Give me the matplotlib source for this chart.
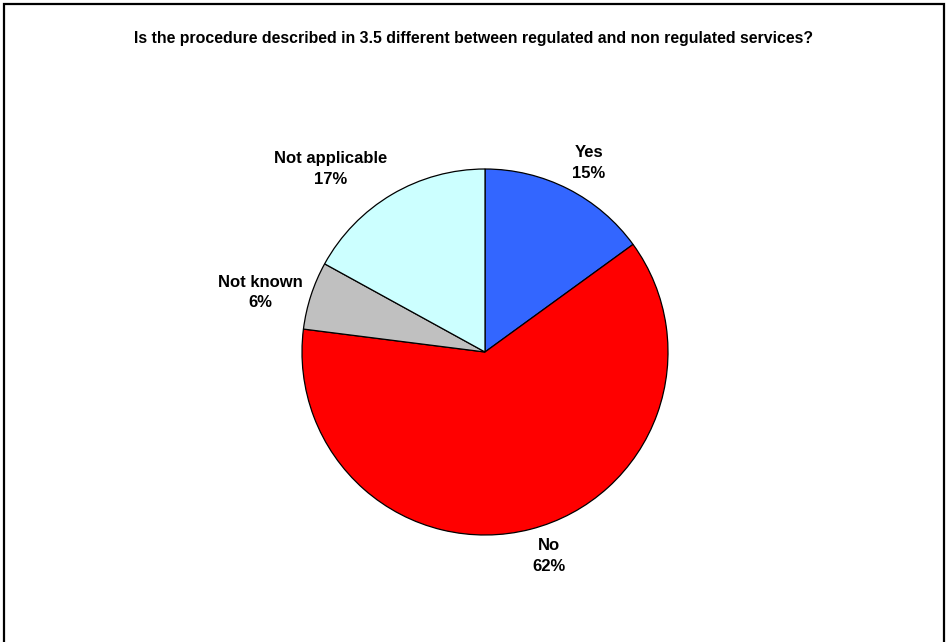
import numpy as np
import matplotlib
matplotlib.use("Agg")
from matplotlib import pyplot as plt
from matplotlib.patches import Rectangle

plt.rcParams['font.family'] = ['Liberation Sans', 'DejaVu Sans']

# data
labels = ['Yes', 'No', 'Not known', 'Not applicable']
shares = [15, 62, 6, 17]
colors = ['#3366FF', '#FF0000', '#C0C0C0', '#CCFFFF']
title = 'Is the procedure described in 3.5 different between regulated and non regulated services?'

fig = plt.figure(figsize=(9.48, 6.42), dpi=100)

# frame round the chart area (bottom edge is cut off in the original)
fig.add_artist(Rectangle((4 / 948, -0.1), 940 / 948, 1.1 - 4 / 642,
                         transform=fig.transFigure, fill=False,
                         edgecolor='black', linewidth=1.6))

fig.text(0.5, 1 - 39 / 642, title, ha='center', va='center',
         fontsize=11.4, fontweight='bold')

# pie: centre (485, 352) px, radius 183 px
ax = fig.add_axes([(485 - 183) / 948, (642 - 352 - 183) / 642, 366 / 948, 366 / 642])
wedges, _ = ax.pie(shares, colors=colors, startangle=90, counterclock=False,
                   radius=1, wedgeprops=dict(edgecolor='black', linewidth=0.9))
ax.set_xlim(-1, 1)
ax.set_ylim(-1, 1)
ax.set_aspect('equal')
ax.axis('off')

# labels placed just outside each wedge, boxes touching the anchor point
for w, lab, val in zip(wedges, labels, shares):
    ang = np.deg2rad((w.theta1 + w.theta2) / 2)
    c, s = np.cos(ang), np.sin(ang)
    r = 1.05
    ha = 'left' if c > 0.1 else ('right' if c < -0.1 else 'center')
    va = 'bottom' if s > 0.5 else ('top' if s < -0.5 else 'center')
    ax.text(r * c, r * s, f'{lab}\n{val}%', ha=ha, va=va, multialignment='center',
            fontsize=12, fontweight='bold', linespacing=1.45, clip_on=False)

fig.savefig('out.png', dpi=100)
